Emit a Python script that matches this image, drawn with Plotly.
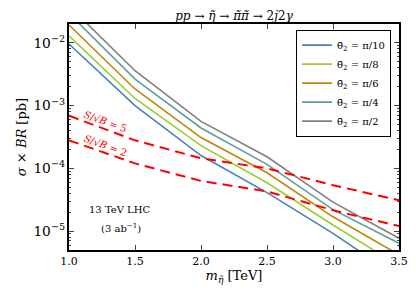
import plotly.graph_objects as go

mass = [1.0, 1.5, 2.0, 2.5, 3.0, 3.5]
labels = ["θ̄<sub>2</sub> = π/10", "θ̄<sub>2</sub> = π/8", "θ̄<sub>2</sub> = π/6",
          "θ̄<sub>2</sub> = π/4", "θ̄<sub>2</sub> = π/2"]
xsec_pi10 = [9.6e-3, 1.0e-3, 1.6e-4, 4.1e-5, 9.2e-6, 1.8e-6]
xsec_pi8 = [1.29e-2, 1.3e-3, 2.3e-4, 5.9e-5, 1.25e-5, 2.8e-6]
xsec_pi6 = [1.93e-2, 1.84e-3, 3.1e-4, 8.5e-5, 1.69e-5, 4.2e-6]
xsec_pi4 = [2.95e-2, 2.65e-3, 4.4e-4, 1.16e-4, 2.2e-5, 6.4e-6]
xsec_pi2 = [3.9e-2, 3.6e-3, 5.6e-4, 1.53e-4, 2.9e-5, 7.7e-6]
sig5 = [6.9e-4, 2.8e-4, 1.45e-4, 1.0e-4, 5.4e-5, 3.1e-5]
sig2 = [2.8e-4, 1.2e-4, 6.3e-5, 4.3e-5, 2.15e-5, 1.2e-5]

series = [xsec_pi10, xsec_pi8, xsec_pi6, xsec_pi4, xsec_pi2]
colors = ["#4a80bd", "#9acd32", "#c0860b", "#5f9ea0", "#808080"]

FONT = "DejaVu Serif"
fig = go.Figure()
for ys, name, c in zip(series, labels, colors):
    fig.add_trace(go.Scatter(x=mass, y=ys, mode="lines", name=name,
                             line=dict(color=c, width=1.6)))
for ys in (sig5, sig2):
    fig.add_trace(go.Scatter(x=mass, y=ys, mode="lines", showlegend=False,
                             line=dict(color="red", width=2, dash="10px,6px")))

fig.add_annotation(x=1.275, y=-3.245, xref="x", yref="y", showarrow=False,
                   text="<i>S</i>/√<i>B</i> = 5", textangle=20,
                   font=dict(color="red", size=10, family=FONT))
fig.add_annotation(x=1.275, y=-3.635, xref="x", yref="y", showarrow=False,
                   text="<i>S</i>/√<i>B</i> = 2", textangle=20,
                   font=dict(color="red", size=10, family=FONT))
fig.add_annotation(x=1.38, y=-4.65, xref="x", yref="y", showarrow=False,
                   text="13 TeV LHC", font=dict(color="black", size=10, family=FONT))
fig.add_annotation(x=1.395, y=-4.95, xref="x", yref="y", showarrow=False,
                   text="(3 ab<sup>−1</sup>)", font=dict(color="black", size=10, family=FONT))

fig.update_layout(
    width=416, height=297,
    margin=dict(l=51, r=25, t=16, b=55),
    plot_bgcolor="white", paper_bgcolor="white",
    font=dict(family=FONT, size=11, color="black"),
    title=dict(text="<i>pp</i> → <i>η̃</i> → <i>π̃π̃</i> → 2<i>j</i>2<i>γ</i>",
               x=0.5, xref="paper", xanchor="center", y=0.975, yanchor="middle",
               font=dict(size=12)),
    showlegend=True,
    legend=dict(x=0.688, y=0.975, xanchor="left", yanchor="top",
                bordercolor="black", borderwidth=1, bgcolor="white",
                font=dict(size=10), tracegroupgap=0, itemwidth=30),
    xaxis=dict(range=[1.0, 3.5], dtick=0.5, tick0=1.0, tickformat=".1f",
               ticks="inside", ticklen=5, showline=True, linecolor="black",
               linewidth=1.5, mirror="ticks", showgrid=False, zeroline=False,
               title=dict(text="<i>m</i><sub><i>η̃</i></sub> [TeV]", standoff=4),
               tickfont=dict(size=11)),
    yaxis=dict(type="log", range=[-5.30103, -1.69897], dtick=1,
               exponentformat="power", ticks="inside", ticklen=5,
               showline=True, linecolor="black", linewidth=1.5, mirror="ticks",
               showgrid=False, zeroline=False,
               minor=dict(ticks="inside", ticklen=2.5, showgrid=False),
               title=dict(text="<i>σ</i> × <i>BR</i> [pb]", standoff=4),
               tickfont=dict(size=11)),
)
fig.write_html("out.html")
